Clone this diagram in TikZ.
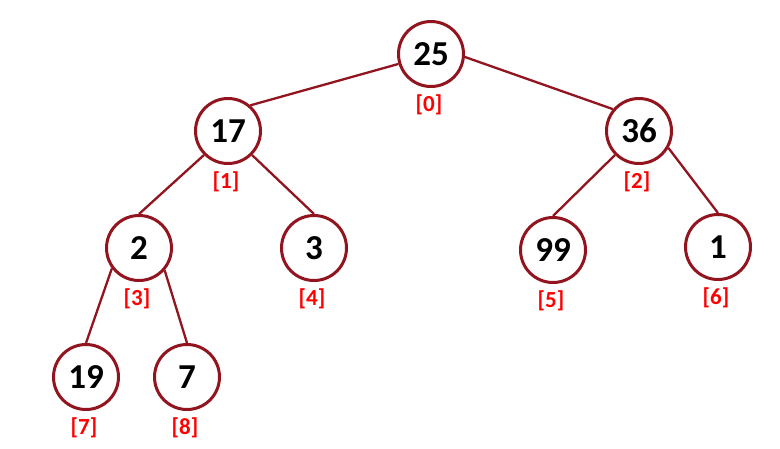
\documentclass[tikz,border=0pt]{standalone}
\usepackage{fontspec}
\setmainfont{Carlito}
\usepackage{tikz}

\definecolor{heapred}{RGB}{145,20,30}

\begin{document}
\begin{tikzpicture}[x=1pt,y=-1pt,
    heap/.style={circle, draw=heapred, line width=3pt, fill=white, minimum size=65pt, inner sep=0pt,
        font=\fontsize{35}{35}\selectfont\bfseries},
    idx/.style={text=red, inner sep=0pt, font=\fontsize{23}{23}\selectfont\bfseries},
    edge/.style={draw=heapred, line width=2.3pt}]
    \useasboundingbox (0,0) rectangle (780,448);
    % heap nodes and their array positions
    \foreach \v/\x/\y/\i in {25/431/54/0, 17/228/131/1, 36/639/131/2, 2/139/248/3, 3/314/248/4,
        99/553/250/5, 1/718/247/6, 19/86/377/7, 7/187/377/8} {
        \node[heap] (h\i) at (\x,\y) {\v};
        \node[idx] (i\i) at (\x-2,\y+51) {[\i]};
    }
    \draw[edge] (h0.197) -- (h1.49);
    \draw[edge] (h0.-5) -- (h2.140);
    \draw[edge] (h1.225) -- (h3.north);
    \draw[edge] (h1.-45) -- (h4.north);
    \draw[edge] (h2.225) -- (h5.north);
    \draw[edge] (h2.-30) -- (h6.north);
    \draw[edge] (h3.217) -- (h7.north);
    \draw[edge] (h3.-41) -- (h8.north);
\end{tikzpicture}
\end{document}
